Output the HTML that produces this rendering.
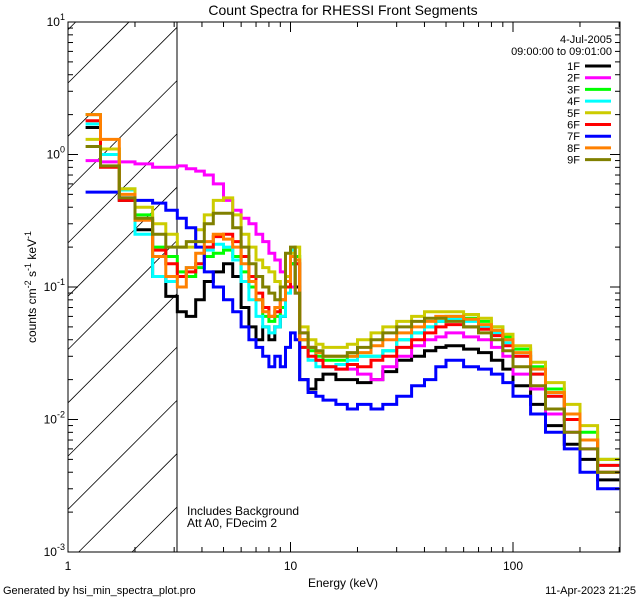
<!DOCTYPE html>
<html><head><meta charset="utf-8"><style>
html,body{margin:0;padding:0;background:#fff;width:640px;height:600px;overflow:hidden}
svg{display:block;font-family:"Liberation Sans","DejaVu Sans",sans-serif}
</style></head><body>
<svg id="chart" width="640" height="600" xmlns="http://www.w3.org/2000/svg">
<rect width="640" height="600" fill="#fff"/>
<text x="343" y="15" font-size="14" text-anchor="middle">Count Spectra for RHESSI Front Segments</text>
<defs><clipPath id="pc"><rect x="68" y="22" width="552" height="530"/></clipPath></defs>
<g id="hatch" stroke="#000" stroke-width="0.8"></g>
<line x1="177" y1="22" x2="177" y2="552" stroke="#000" stroke-width="1"/>
<g id="series" clip-path="url(#pc)" fill="none" stroke-width="3"></g>
<rect x="68" y="22" width="552" height="530" fill="none" stroke="#000" stroke-width="1"/>
<g id="axes" stroke="#000" stroke-width="1"></g>
<g id="labels" font-size="12"></g>
<text x="343" y="587" font-size="12" text-anchor="middle">Energy (keV)</text>
<text transform="translate(36,287) rotate(-90)" font-size="12" text-anchor="middle">counts cm<tspan font-size="9" dy="-5">-2</tspan><tspan dy="5"> s</tspan><tspan font-size="9" dy="-5">-1</tspan><tspan dy="5"> keV</tspan><tspan font-size="9" dy="-5">-1</tspan></text>
<text x="187" y="515" font-size="12">Includes Background</text>
<text x="187" y="527" font-size="12">Att A0, FDecim 2</text>
<text x="3" y="594" font-size="11">Generated by hsi_min_spectra_plot.pro</text>
<text x="636" y="594" font-size="11" text-anchor="end">11-Apr-2023 21:25</text>
<text x="612" y="43" font-size="11" text-anchor="end">4-Jul-2005</text>
<text x="612" y="55" font-size="11" text-anchor="end">09:00:00 to 09:01:00</text>
<g id="legend" font-size="11"></g>
</svg>
<script>
const edges=[1.2,1.4,1.7,2.0,2.4,2.75,3.1,3.4,3.75,4.1,4.5,5,5.5,6,6.5,7,7.5,8,8.5,9,9.5,10,10.5,11,12,13,14,16,18,20,23,26,30,35,40,45,50,60,70,80,90,100,120,140,170,200,240,300];
const names=["1F","2F","3F","4F","5F","6F","7F","8F","9F"];
const colors=["#000000","#ff00ff","#00ff00","#00ffff","#cccc00","#ff0000","#0000ff","#ff8000","#808000"];
const s1F=[1.6,1.0,0.45,0.27,0.12,0.085,0.065,0.06,0.08,0.11,0.13,0.15,0.12,0.07,0.05,0.04,0.05,0.04,0.05,0.06,0.1,0.15,0.1,0.02,0.017,0.02,0.022,0.02,0.02,0.019,0.02,0.023,0.028,0.03,0.033,0.035,0.036,0.034,0.032,0.028,0.024,0.018,0.013,0.009,0.0065,0.005,0.0035];
const s2F=[0.9,0.88,0.88,0.85,0.8,0.8,0.82,0.78,0.75,0.7,0.6,0.45,0.38,0.33,0.3,0.25,0.22,0.18,0.16,0.13,0.12,0.1,0.09,0.045,0.035,0.028,0.025,0.024,0.024,0.022,0.02,0.025,0.03,0.036,0.04,0.042,0.045,0.042,0.04,0.035,0.03,0.022,0.017,0.011,0.008,0.006,0.004];
const s3F=[2.0,1.1,0.55,0.35,0.2,0.17,0.13,0.12,0.14,0.17,0.18,0.19,0.17,0.13,0.1,0.08,0.06,0.055,0.06,0.07,0.1,0.15,0.17,0.04,0.033,0.03,0.028,0.028,0.03,0.03,0.03,0.033,0.04,0.045,0.05,0.055,0.06,0.058,0.055,0.05,0.042,0.034,0.025,0.017,0.011,0.008,0.005];
const s4F=[1.7,1.0,0.54,0.25,0.12,0.11,0.12,0.14,0.15,0.19,0.21,0.2,0.16,0.11,0.08,0.06,0.05,0.045,0.05,0.06,0.09,0.19,0.15,0.035,0.028,0.025,0.025,0.026,0.028,0.03,0.03,0.033,0.04,0.045,0.05,0.055,0.057,0.055,0.05,0.045,0.038,0.03,0.022,0.015,0.01,0.007,0.0045];
const s5F=[1.3,1.1,0.55,0.4,0.3,0.25,0.2,0.2,0.27,0.35,0.45,0.47,0.35,0.25,0.2,0.16,0.14,0.13,0.11,0.1,0.12,0.18,0.2,0.05,0.04,0.037,0.035,0.035,0.037,0.04,0.045,0.05,0.055,0.06,0.065,0.065,0.065,0.062,0.058,0.05,0.044,0.036,0.027,0.019,0.013,0.009,0.005];
const s6F=[1.8,0.8,0.45,0.32,0.19,0.15,0.12,0.13,0.15,0.2,0.24,0.25,0.22,0.17,0.12,0.09,0.07,0.06,0.065,0.08,0.1,0.17,0.15,0.035,0.03,0.028,0.025,0.024,0.026,0.025,0.028,0.03,0.035,0.04,0.045,0.05,0.052,0.05,0.048,0.043,0.036,0.03,0.022,0.015,0.01,0.007,0.0045];
const s7F=[0.52,0.52,0.47,0.45,0.43,0.38,0.33,0.28,0.2,0.13,0.1,0.08,0.065,0.05,0.04,0.035,0.03,0.025,0.03,0.025,0.035,0.045,0.04,0.02,0.016,0.015,0.014,0.013,0.012,0.013,0.012,0.013,0.015,0.018,0.02,0.025,0.028,0.025,0.024,0.022,0.019,0.015,0.011,0.008,0.006,0.004,0.003];
const s8F=[2.0,1.3,0.5,0.32,0.17,0.12,0.1,0.14,0.18,0.22,0.25,0.23,0.2,0.15,0.11,0.08,0.065,0.06,0.07,0.08,0.11,0.17,0.16,0.04,0.035,0.032,0.03,0.03,0.03,0.032,0.036,0.04,0.045,0.05,0.055,0.06,0.06,0.057,0.052,0.047,0.04,0.032,0.024,0.016,0.011,0.007,0.004];
const s9F=[1.15,0.82,0.47,0.33,0.25,0.2,0.2,0.22,0.22,0.3,0.36,0.36,0.28,0.2,0.15,0.12,0.1,0.09,0.08,0.1,0.18,0.2,0.09,0.045,0.035,0.033,0.03,0.03,0.032,0.035,0.04,0.045,0.05,0.055,0.058,0.058,0.055,0.05,0.045,0.04,0.033,0.025,0.018,0.012,0.008,0.006,0.004];
const seriesData=[s1F,s2F,s3F,s4F,s5F,s6F,s7F,s8F,s9F];
const xTickVals=[1,10,100];
const xTickLabels=["1","10","100"];
const yTickExps=[-3,-2,-1,0,1];

const NS="http://www.w3.org/2000/svg";
const X0=68,X1=620,Y0=22,Y1=552,XMIN=1,XMAX=Math.pow(10,(X1-X0)/222.5),YMIN=-3,YMAX=1;
function xs(e){return X0+(Math.log10(e)-Math.log10(XMIN))/(Math.log10(XMAX)-Math.log10(XMIN))*(X1-X0);}
function ys(v){return Y1-(Math.log10(v)-YMIN)/(YMAX-YMIN)*(Y1-Y0);}
function mk(t,a,p){const el=document.createElementNS(NS,t);for(const k in a)el.setAttribute(k,a[k]);p.appendChild(el);return el;}

// hatch lines, clipped manually to x 68..177, y 22..552, slope 45deg
const hg=document.getElementById('hatch');
const HX0=68,HX1=177;
for(let k=-3;k<13;k++){
  const yb=83+k*53.3; // y at x=HX0
  let xa=HX0,ya=yb;
  if(ya>Y1){xa=HX0+(ya-Y1);ya=Y1;}
  let xb=HX1,yB=yb-(HX1-HX0);
  if(yB<Y0){xb=HX0+(yb-Y0);yB=Y0;}
  if(xa>=xb)continue;
  const l=mk('line',{x1:xa.toFixed(1),y1:ya.toFixed(1),x2:xb.toFixed(1),y2:yB.toFixed(1)},hg);
  
  
}

const sg=document.getElementById('series');
seriesData.forEach((vals,i)=>{
  let d='';
  vals.forEach((v,j)=>{const xa=xs(edges[j]),xb=xs(edges[j+1]),y=ys(v);
    d+=(j===0?'M':'L')+xa.toFixed(1)+' '+y.toFixed(1)+'L'+xb.toFixed(1)+' '+y.toFixed(1);});
  const p=mk('path',{d:d,stroke:colors[i],'stroke-linejoin':'miter'},sg);
  
  
});

const ag=document.getElementById('axes'),lg=document.getElementById('labels');
for(let dec=0;dec<3;dec++){for(let m=1;m<10;m++){const e=Math.pow(10,dec)*m;if(e>XMAX)break;const x=xs(e);const len=m===1?10:5;
  const t1=mk('line',{x1:x,y1:Y1,x2:x,y2:Y1-len},ag);
  
  
  const t2=mk('line',{x1:x,y1:Y0,x2:x,y2:Y0+len},ag);
  
  }}
xTickVals.forEach((v,i)=>{const t=mk('text',{x:xs(v),y:Y1+18,'text-anchor':'middle'},lg);t.textContent=xTickLabels[i];
  
  });
for(let ex=-3;ex<1;ex++){for(let m=1;m<10;m++){const v=Math.pow(10,ex)*m;const y=ys(v);const len=m===1?10:5;
  const t1=mk('line',{x1:X0,y1:y,x2:X0+len,y2:y},ag);
  
  
  const t2=mk('line',{x1:X1,y1:y,x2:X1-len,y2:y},ag);
  
  }}
yTickExps.forEach(ex=>{const y=ys(Math.pow(10,ex));const t=mk('text',{x:X0-3,y:y+4,'text-anchor':'end'},lg);
  t.innerHTML='10<tspan font-size="9" dy="-6">'+ex+'</tspan>';
  
  });

const leg=document.getElementById('legend');
names.forEach((n,i)=>{const y=66+i*11.7;
  const t=mk('text',{x:580,y:y+4,'text-anchor':'end'},leg);t.textContent=n;
  
  
  const l=mk('line',{x1:585,y1:y,x2:611,y2:y,stroke:colors[i],'stroke-width':3},leg);
  
  });
</script>
</body></html>
